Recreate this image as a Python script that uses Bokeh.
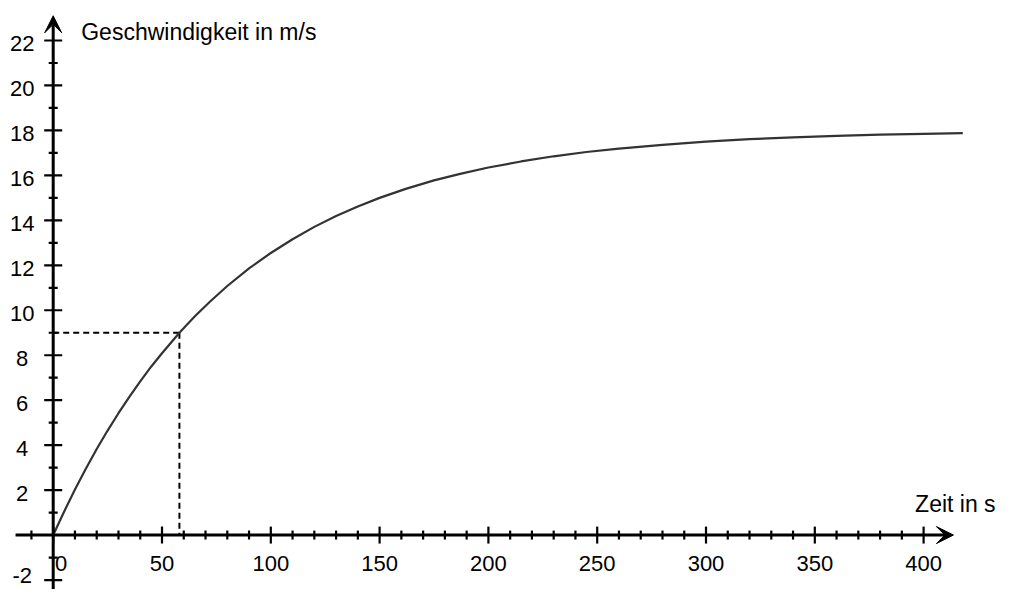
import numpy as np
from bokeh.plotting import figure
from bokeh.models import Range1d, Arrow, VeeHead, ColumnDataSource
from bokeh.core.properties import value
from bokeh.embed import file_html
from bokeh.resources import INLINE

# ---- data ----
t_s = [0, 5, 10, 15, 20, 25, 30, 35, 40, 45, 50, 58, 65, 72, 80, 90, 100,
       110, 120, 130, 140, 150, 162, 175, 187, 200, 215, 230, 245, 260, 280,
       300, 320, 340, 360, 380, 400, 418]
v_ms = [0, 1.04, 2.03, 2.95, 3.83, 4.65, 5.42, 6.15, 6.84, 7.49, 8.09, 9.0,
        9.72, 10.38, 11.08, 11.86, 12.55, 13.16, 13.71, 14.19, 14.62, 15.0,
        15.40, 15.78, 16.07, 16.35, 16.62, 16.85, 17.04, 17.19, 17.36, 17.50,
        17.61, 17.69, 17.76, 17.81, 17.85, 17.88]
mark_t = 58
mark_v = 9
x_major = [0, 50, 100, 150, 200, 250, 300, 350, 400]
x_minor = [t for t in range(-10, 401, 10) if t % 50 != 0]
y_major = [-2, 2, 4, 6, 8, 10, 12, 14, 16, 18, 20, 22]
y_minor = [-1, 1, 3, 5, 7, 9, 11, 13, 15, 17, 19, 21]
x_title = "Zeit in s"
y_title = "Geschwindigkeit in m/s"

# ---- layout calibration ----
W, H = 999, 589
PX_X = 2.176   # px per second
PX_Y = 22.48   # px per m/s
x0 = -24.22
y1 = 23.78
x1 = x0 + W / PX_X
y0 = y1 - H / PX_Y

p = figure(width=W, height=H, output_backend="svg", toolbar_location=None,
           x_axis_type=None, y_axis_type=None, min_border=0,
           x_range=Range1d(x0, x1), y_range=Range1d(y0, y1))
p.outline_line_color = None
p.background_fill_color = "white"
p.border_fill_color = "white"

FONT = value("Liberation Sans")

# dashed helper lines
p.line([0, mark_t], [mark_v, mark_v], line_color="black", line_width=2,
       line_dash="6 4")
p.line([mark_t, mark_t], [mark_v, 0], line_color="black", line_width=2,
       line_dash="6 4")

# curve
p.line(t_s, v_ms, line_color="#333333", line_width=2.2)

# axes with arrows
p.add_layout(Arrow(end=VeeHead(size=17, fill_color="black", line_color="black"),
                   x_start=-17.3, y_start=0, x_end=413.7, y_end=0,
                   line_width=3, line_color="black"))
p.add_layout(Arrow(end=VeeHead(size=17, fill_color="black", line_color="black"),
                   x_start=0, y_start=y0, x_end=0, y_end=23.1,
                   line_width=3, line_color="black"))

# ticks
p.dash(x=x_major, y=[0] * len(x_major), size=17, angle=np.pi / 2,
       line_color="black", line_width=2.2)
p.dash(x=x_minor, y=[0] * len(x_minor), size=9, angle=np.pi / 2,
       line_color="black", line_width=2.2)
p.dash(x=[0] * len(y_major), y=y_major, size=18, line_color="black",
       line_width=2.2)
p.dash(x=[0] * len(y_minor), y=y_minor, size=9, line_color="black",
       line_width=2.2)

# tick labels
xl = ColumnDataSource(dict(x=x_major, y=[0] * len(x_major),
                           t=[str(v) for v in x_major],
                           dx=[8 if v == 0 else 0 for v in x_major]))
p.text(x="x", y="y", text="t", source=xl, x_offset="dx", y_offset=28,
       text_align="center", text_baseline="middle", text_font=FONT,
       text_font_size="22px", text_color="black")
yl = ColumnDataSource(dict(x=[0] * len(y_major), y=y_major,
                           t=[str(v) for v in y_major],
                           dy=[-5 if v < 0 else 3 for v in y_major]))
p.text(x="x", y="y", text="t", source=yl, x_offset=-31, y_offset="dy",
       text_align="center", text_baseline="middle", text_font=FONT,
       text_font_size="22px", text_color="black")

# axis titles
p.text(x=[0], y=[22], text=[y_title], x_offset=28, y_offset=-9,
       text_align="left", text_baseline="alphabetic", text_font=FONT,
       text_font_size="23px", text_color="black")
p.text(x=[400], y=[0], text=[x_title], x_offset=72, y_offset=-31,
       text_align="right", text_baseline="alphabetic", text_font=FONT,
       text_font_size="23px", text_color="black")

open("out.html", "w").write(file_html(p, INLINE))
